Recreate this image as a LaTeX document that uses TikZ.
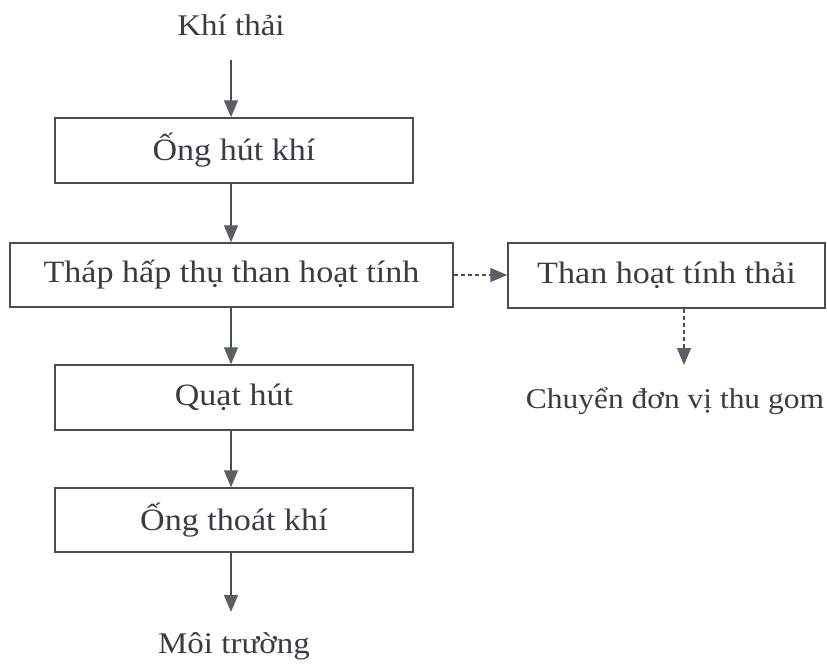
\documentclass[tikz,border=0pt]{standalone}
\usepackage{fontspec}
\setmainfont{Liberation Serif}[FakeStretch=1.1]
\usetikzlibrary{arrows.meta,calc}
\definecolor{ink}{HTML}{3A3B47}
\definecolor{edge}{HTML}{4A4B55}
\definecolor{tip}{HTML}{5A5F66}
\tikzset{
  box/.style={draw=edge, line width=1.4pt, inner sep=0pt, text=ink,
              font=\fontsize{31}{36}\selectfont},
  label/.style={inner sep=0pt, text=ink, font=\fontsize{30}{36}\selectfont, anchor=base},
  flow/.style={draw=edge, line width=1.3pt,
               -{Triangle[length=17pt,width=14pt,fill=tip,color=tip]}},
  side/.style={flow, dash pattern=on 4pt off 3pt, line width=1.1pt}
}
\begin{document}
\begin{tikzpicture}[x=1pt,y=1pt]
  \useasboundingbox (0,0) rectangle (827,-664);

  % main column
  \node[label] (khi) at (231,-35) {Khí thải};
  \node[box, minimum width=358pt, minimum height=65pt] (b1) at (234,-150.5) {Ống hút khí};
  \node[box, minimum width=443pt, minimum height=64pt] (b2) at (231.5,-275) {Tháp hấp thụ than hoạt tính};
  \node[box, minimum width=358pt, minimum height=65pt] (b4) at (234,-397.5) {Quạt hút};
  \node[box, minimum width=358pt, minimum height=64pt] (b5) at (234,-520) {Ống thoát khí};
  \node[label] (mt) at (234,-653) {Môi trường};

  % side branch
  \node[box, minimum width=317pt, minimum height=65pt] (b3) at (666.5,-275.5) {Than hoạt tính thải};
  \node[label, font=\fontsize{28.6}{34}\selectfont] (cg) at (675,-408) {Chuyển đơn vị thu gom};

  % connectors of the main column
  \coordinate (a0) at ([yshift=-25pt]khi.base);
  \draw[flow] (a0) -- (a0 |- b1.north);
  \draw[flow] (a0 |- b1.south) -- (a0 |- b2.north);
  \draw[flow] (a0 |- b2.south) -- (a0 |- b4.north);
  \draw[flow] (a0 |- b4.south) -- (a0 |- b5.north);
  \draw[flow] (a0 |- b5.south) -- ([yshift=41pt]a0 |- mt.base);

  % dashed connectors to the side branch
  \draw[side] (b2.east) -- (b2.east -| b3.west);
  \coordinate (d0) at ([xshift=17.5pt]b3.south);
  \draw[side] (d0) -- ([yshift=43pt]d0 |- cg.base);
\end{tikzpicture}
\end{document}
